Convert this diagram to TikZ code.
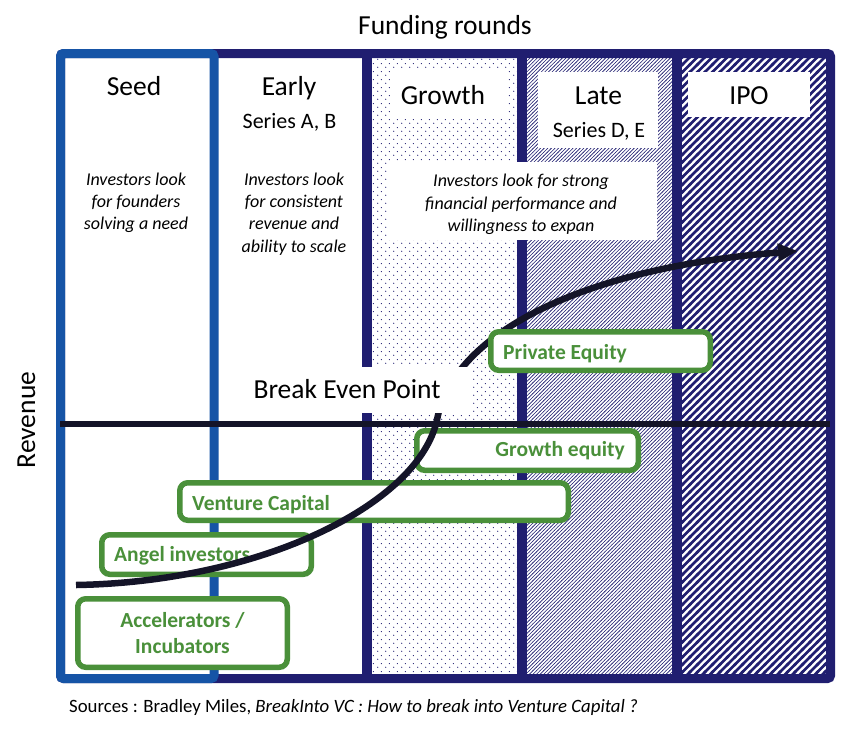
\documentclass[tikz,border=0pt]{standalone}
\usepackage{fontspec}
\setmainfont{Carlito}
\usetikzlibrary{patterns,arrows.meta}
\definecolor{navy}{RGB}{32,30,112}
\definecolor{sblue}{RGB}{22,84,166}
\definecolor{ggreen}{RGB}{74,144,58}
\definecolor{ink}{RGB}{20,20,40}
\pgfdeclarepatternformonly{rdots}{\pgfqpoint{0pt}{0pt}}{\pgfqpoint{8pt}{8pt}}{\pgfqpoint{8pt}{8pt}}{%
  \pgfpathcircle{\pgfqpoint{2pt}{2pt}}{0.65pt}%
  \pgfpathcircle{\pgfqpoint{6pt}{6pt}}{0.65pt}%
  \pgfusepath{fill}}
\pgfdeclarepatternformonly{finene}{\pgfqpoint{-1pt}{-1pt}}{\pgfqpoint{4.6pt}{4.6pt}}{\pgfqpoint{3.6pt}{3.6pt}}{%
  \pgfsetlinewidth{0.6pt}%
  \pgfpathmoveto{\pgfqpoint{-0.2pt}{-0.2pt}}\pgfpathlineto{\pgfqpoint{3.8pt}{3.8pt}}%
  \pgfusepath{stroke}}
\pgfdeclarepatternformonly{widene}{\pgfqpoint{-2pt}{-2pt}}{\pgfqpoint{9.5pt}{9.5pt}}{\pgfqpoint{7.5pt}{7.5pt}}{%
  \pgfsetlinewidth{2.6pt}%
  \pgfpathmoveto{\pgfqpoint{-1pt}{-1pt}}\pgfpathlineto{\pgfqpoint{8.5pt}{8.5pt}}%
  \pgfusepath{stroke}}
\begin{document}
\begin{tikzpicture}[x=1pt,y=-1pt,
  head/.style={font=\fontsize{27.5}{33}\selectfont, inner sep=0pt},
  sub/.style={font=\fontsize{22}{26}\selectfont, inner sep=0pt},
  note/.style={font=\fontsize{18}{22.4}\selectfont\itshape, align=center, inner sep=0pt},
  whitebox/.style={fill=white, draw=none, inner sep=0pt},
  gbox/.style={draw=ggreen, line width=5.5pt, rounded corners=8pt, fill=white, inner sep=0pt},
  glabel/.style={text=ggreen, font=\fontsize{21.5}{26}\selectfont\bfseries, inner sep=0pt},
  frameline/.style={navy, line width=9.5pt},
  thick line/.style={ink, line width=6.5pt}]
\useasboundingbox (0,0) rectangle (847,732);

% patterned columns
\fill[pattern=rdots, pattern color=navy] (367,53.5) rectangle (522,678.5);
\fill[pattern=finene, pattern color=navy] (522,53.5) rectangle (677,678.5);
\fill[pattern=widene, pattern color=navy] (677,53.5) rectangle (830.5,678.5);

% frame and dividers
\draw[navy, line width=9pt, rounded corners=3pt] (60.5,53.5) rectangle (830.5,678.5);
\draw[frameline] (367,53.5) -- (367,678.5);
\draw[frameline] (522,53.5) -- (522,678.5);
\draw[frameline] (677,53.5) -- (677,678.5);
\draw[sblue, line width=9pt, rounded corners=3pt] (60.5,53.5) rectangle (214,678.5);

% white label boxes
\node[whitebox, minimum width=117pt, minimum height=47pt] (growthbox) at (448.5,93.5) {};
\node[whitebox, minimum width=120pt, minimum height=76pt] (latebox) at (598,110) {};
\node[whitebox, minimum width=122pt, minimum height=45pt] (ipobox) at (749,94.5) {};
\node[whitebox, minimum width=269pt, minimum height=78pt] (notebox) at (522.5,201) {};

% titles
\node[head, anchor=base] (title) at (445,34) {Funding rounds};
\node[head, anchor=base, rotate=90] (revenue) at (35,420) {Revenue};

% column headings
\node[head, anchor=base] (seed) at (134,95) {Seed};
\node[head, anchor=base] (early) at (289,95) {Early};
\node[sub, anchor=base] (seriesab) at (289.5,128) {Series A, B};
\node[head, anchor=base] (growth) at (443,104) {Growth};
\node[head, anchor=base] (late) at (598.5,104) {Late};
\node[sub, anchor=base] (seriesde) at (599,137) {Series D, E};
\node[head, anchor=base] (ipo) at (749,104) {IPO};

% notes
\node[note] (seednote) at (136,202.7) {Investors look\\for founders\\solving a need};
\node[note] (earlynote) at (294,213.9) {Investors look\\for consistent\\revenue and\\ability to scale};
\node[note] (growthnote) at (521,204.6) {Investors look for strong\\financial performance and\\willingness to expan};

% break even line
\coordinate (bl) at (60,424);
\coordinate (br) at (830,424);
\draw[thick line] (bl) -- (br);

% green boxes under the curve
\node[gbox, minimum width=209.5pt, minimum height=68.5pt] (accbox) at (182.5,633) {};
\node[glabel, align=center] (acc) at (182.5,633.3) {Accelerators /\\Incubators};
\node[gbox, minimum width=209.5pt, minimum height=39.5pt] (angelbox) at (206.5,554.5) {};
\node[glabel, anchor=base west] (angel) at (114,561.7) {Angel investors};
\node[gbox, minimum width=388.5pt, minimum height=37.5pt] (vcbox) at (374,501.5) {};
\node[glabel, anchor=base west] (vc) at (192,510) {Venture Capital};
\node[gbox, minimum width=221.5pt, minimum height=39.5pt] (gebox) at (527.5,450.5) {};
\node[glabel, anchor=base east] (ge) at (625,456.7) {Growth equity};

% revenue curve
\coordinate (c0) at (76,585);
\coordinate (c1) at (437,420);
\coordinate (c2) at (798,251);
\draw[thick line, -{Triangle[length=20pt,width=17pt]}]
  (c0) .. controls (260,582) and (418,505) .. (c1)
       .. controls (452,335) and (580,268) .. (c2);

% boxes over the curve
\node[whitebox, minimum width=246pt, minimum height=46pt] (bebox) at (347,390) {};
\node[head, anchor=base] (be) at (347,398) {Break Even Point};
\node[gbox, minimum width=219.5pt, minimum height=38.5pt] (pebox) at (600.5,351) {};
\node[glabel, anchor=base west] (pe) at (503,359) {Private Equity};

% source
\node[anchor=base west, inner sep=0pt, font=\fontsize{18.8}{22}\selectfont] (src) at (69,712)
  {Sources : Bradley Miles, \textit{BreakInto VC : How to break into Venture Capital ?}};
\end{tikzpicture}
\end{document}
